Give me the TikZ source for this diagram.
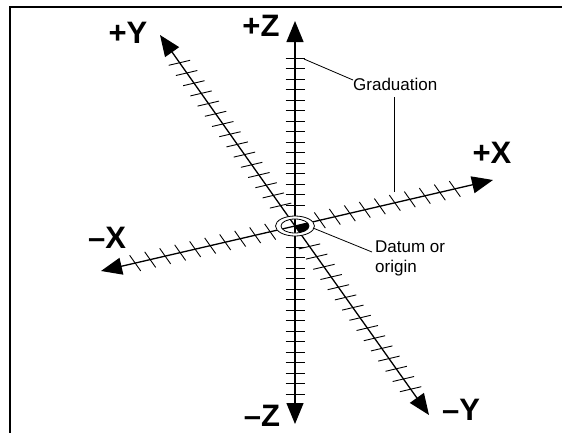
\documentclass[tikz,border=0pt]{standalone}
\usepackage{fontspec}
\setmainfont{Liberation Sans}
\usetikzlibrary{calc,arrows.meta}
\tikzset{
  axisline/.style={line width=1.3pt,-{Triangle[length=21pt,width=17pt]}},
  tickline/.style={line width=0.9pt},
  leader/.style={line width=0.8pt},
  axlabel/.style={font=\fontsize{31}{31}\selectfont\bfseries,inner sep=0pt,anchor=base},
  note/.style={font=\fontsize{17}{17}\selectfont,inner sep=0pt,anchor=base west},
}
\begin{document}
\begin{tikzpicture}[x=1pt,y=-1pt]
\useasboundingbox (0,0) rectangle (562,432);
\clip (0,0) rectangle (562,432);
\draw[line width=1.5pt] (10,7) rectangle (620,480);
% axis points
\coordinate (O) at (295,226);
\coordinate (Xp) at (493,180);
\coordinate (Xm) at (101,271);
\coordinate (Yp) at (160,35);
\coordinate (Ym) at (429,415);
\coordinate (Zp) at (295,21);
\coordinate (Zm) at (295,424);
% ticks on X (parallel to Y direction)
\foreach \k in {0,...,9}{
  \pgfmathsetmacro\dd{25.5+15.4*\k}
  \draw[tickline] ($(O)+\dd*(0.974,-0.226)+(5.5,7.8)$) -- ($(O)+\dd*(0.974,-0.226)-(5.5,7.8)$);
  \draw[tickline] ($(O)-\dd*(0.974,-0.226)+(5.5,7.8)$) -- ($(O)-\dd*(0.974,-0.226)-(5.5,7.8)$);
}
% ticks on Y (parallel to X direction)
\foreach \k in {2,...,16}{
  \pgfmathsetmacro\dd{12.5*\k}
  \draw[tickline] ($(O)+\dd*(0.578,0.816)+(10.7,-2.5)$) -- ($(O)+\dd*(0.578,0.816)-(10.7,-2.5)$);
  \draw[tickline] ($(O)-\dd*(0.578,0.816)+(10.7,-2.5)$) -- ($(O)-\dd*(0.578,0.816)-(10.7,-2.5)$);
}
% ticks on Z (horizontal)
\foreach \k in {2,...,16}{
  \pgfmathsetmacro\dd{10.5*\k}
  \draw[tickline] ($(O)+(-9.5,\dd)$) -- ($(O)+(9.5,\dd)$);
  \draw[tickline] ($(O)+(-9.5,-\dd)$) -- ($(O)+(9.5,-\dd)$);
}
% axes
\draw[axisline] (O) -- (Xp);
\draw[axisline] (O) -- (Xm);
\draw[axisline] (O) -- (Yp);
\draw[axisline] (O) -- (Ym);
\draw[axisline] (O) -- (Zp);
\draw[axisline] (O) -- (Zm);
% datum rings
\fill[white,even odd rule] (O) ellipse [x radius=19.5pt,y radius=10pt] (O) ellipse [x radius=14pt,y radius=7pt];
\draw[line width=0.8pt] (O) ellipse [x radius=19.5pt,y radius=10pt];
\draw[line width=0.8pt] (O) ellipse [x radius=14pt,y radius=7pt];
\begin{scope}
  \clip (O) ellipse [x radius=14pt,y radius=7pt];
  \fill (O) -- ($(O)+(29.2,-6.8)$) -- ($(O)+(32,12)$) -- ($(O)+(17.3,24.5)$) -- cycle;
\end{scope}
% labels
\node[axlabel] (lXp) at (492,163) {+X};
\node[axlabel] (lXm) at (107,248) {–X};
\node[axlabel] (lYp) at (128,43) {+Y};
\node[axlabel] (lYm) at (461,420) {–Y};
\node[axlabel] (lZp) at (261,36) {+Z};
\node[axlabel] (lZm) at (262,426) {–Z};
\node[note] (grad) at (353,90) {Graduation};
\node[note] (datum) at (375,252) {Datum or};
\node[note] (orig) at (375,272) {origin};
% leaders
\coordinate (g1) at (304,59);
\coordinate (g2) at (394,192);
\coordinate (d1) at (313,228);
\draw[leader] (g1) -- (grad.west |- 0,80);
\draw[leader] (g2) -- (394,97);
\draw[leader] (d1) -- (372,252);
\end{tikzpicture}
\end{document}
